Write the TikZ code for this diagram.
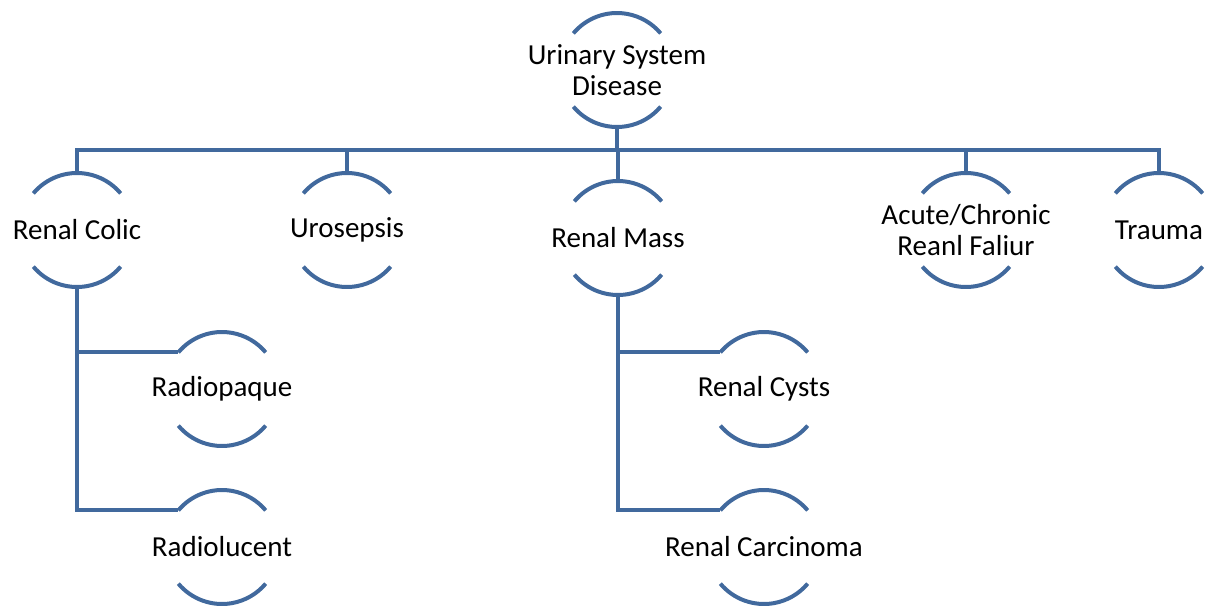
\documentclass[tikz,border=0pt]{standalone}
\usepackage{fontspec}
\setmainfont{Carlito}
\definecolor{lineblue}{RGB}{65,105,157}
\begin{document}
\begin{tikzpicture}[x=1pt,y=-1pt,
  ring/.style={circle,draw=none,minimum size=114pt,inner sep=0pt,outer sep=0pt},
  txt/.style={font=\fontsize{29}{31}\selectfont,align=center,inner sep=0pt,text=black},
  ln/.style={draw=lineblue,line width=4pt}]
\useasboundingbox (0,0) rectangle (1215,605);
% circles
\node[ring] (root) at (617,70) {};
\node[ring] (rc) at (77,230) {};
\node[ring] (uro) at (347,230) {};
\node[ring] (rm) at (618,238) {};
\node[ring] (arf) at (966,230) {};
\node[ring] (tr) at (1159,230) {};
\node[ring] (rop) at (222,389) {};
\node[ring] (rlu) at (222,547) {};
\node[ring] (rcy) at (764,389) {};
\node[ring] (rca) at (764,547) {};
% texts
\node[txt] (roott) at (root) {Urinary System\\Disease};
\node[txt] (rct) at (rc) {Renal Colic};
\node[txt] (urot) at (uro) {Urosepsis};
\node[txt] (rmt) at (rm) {Renal Mass};
\node[txt] (arft) at (arf) {Acute/Chronic\\Reanl Faliur};
\node[txt] (trt) at (tr) {Trauma};
\node[txt] (ropt) at (rop) {Radiopaque};
\node[txt] (rlut) at (rlu) {Radiolucent};
\node[txt] (rcyt) at (rcy) {Renal Cysts};
\node[txt] (rcat) at (rca) {Renal Carcinoma};
% arcs (y axis points down, so angles are mirrored)
\foreach \n in {root,rc,uro,rm,arf,tr,rop,rlu,rcy,rca}{
  \draw[ln] (\n.140) arc[start angle=-140,end angle=-40,radius=57];
  \draw[ln] (\n.220) arc[start angle=140,end angle=40,radius=57];
}
% connectors
\coordinate (bus) at (617,150);
\draw[ln] (root.south) -- (bus);
\draw[ln] (rc.north) |- (bus) -| (tr.north);
\draw[ln] (uro.north) -- (uro.north |- bus);
\draw[ln] (rm.north) -- (rm.north |- bus);
\draw[ln] (arf.north) -- (arf.north |- bus);
\draw[ln] (rc.south) |- (rlu.140);
\draw[ln] (rc.south |- rop.140) -- (rop.140);
\draw[ln] (rm.south) |- (rca.140);
\draw[ln] (rm.south |- rcy.140) -- (rcy.140);
\end{tikzpicture}
\end{document}
